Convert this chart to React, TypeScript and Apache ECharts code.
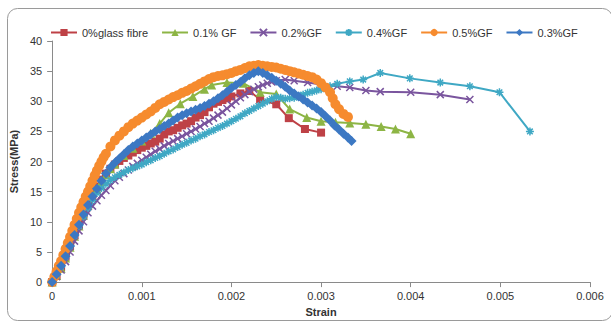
import React, { useEffect, useRef } from "react";
import * as echarts from "echarts";

const seriesNames = ["0%glass fibre", "0.1% GF", "0.2%GF", "0.4%GF", "0.5%GF", "0.3%GF"];
const xTicks = [0, 0.001, 0.002, 0.003, 0.004, 0.005, 0.006];

const gf0: number[][] = [[0,0],[0.00005,1.2],[0.0001,2.5],[0.00015,4.2],[0.0002,6],[0.00025,7.8],[0.0003,9.5],[0.00035,11.3],[0.0004,13],[0.00045,14.5],[0.0005,15.8],[0.00055,17],[0.0006,18],[0.00065,18.8],[0.0007,19.5],[0.00075,20.1],[0.0008,20.6],[0.00085,21],[0.0009,21.5],[0.00095,21.9],[0.001,22.3],[0.00105,22.6],[0.0011,23],[0.00115,23.3],[0.0012,23.8],[0.00125,24.5],[0.0013,25],[0.00135,25.2],[0.0014,25.6],[0.00145,26],[0.0015,26.3],[0.00155,26.7],[0.0016,27.3],[0.00165,27.7],[0.0017,28.2],[0.00175,29],[0.0018,29.6],[0.00185,29.9],[0.0019,30.2],[0.00195,30.5],[0.002,30.8],[0.0021,31.3],[0.0022,31.7],[0.00232,30.3],[0.0025,29.5],[0.00264,27.2],[0.00282,25.4],[0.003,24.8]];
const gf01: number[][] = [[0,0],[0.00005,1.1],[0.0001,2.3],[0.00015,4],[0.0002,5.8],[0.00025,7.6],[0.0003,9.3],[0.00035,11.1],[0.0004,12.8],[0.00045,14.2],[0.0005,15.5],[0.00055,16.7],[0.0006,17.8],[0.00065,18.8],[0.0007,19.6],[0.0008,21],[0.0009,22.2],[0.001,23.4],[0.0011,24.7],[0.0012,26.3],[0.0013,28.1],[0.00143,29.6],[0.00157,30.8],[0.0017,32],[0.00178,32.7],[0.00195,33.1],[0.00213,33],[0.00232,31.5],[0.0025,31.2],[0.00265,28.7],[0.00284,27.3],[0.003,26.7],[0.00316,26.5],[0.00332,26.4],[0.0035,26.2],[0.00367,25.8],[0.00383,25.4],[0.004,24.6]];
const gf02: number[][] = [[0,0],[0.00005,0.9],[0.0001,2],[0.00015,3.4],[0.0002,5],[0.00025,6.8],[0.0003,8.5],[0.00035,10],[0.0004,11.5],[0.00045,12.6],[0.0005,13.5],[0.00055,14.4],[0.0006,15.2],[0.00065,16],[0.0007,16.8],[0.00075,17.4],[0.0008,18],[0.00085,18.6],[0.0009,19.2],[0.00095,19.7],[0.001,20.2],[0.00105,20.7],[0.0011,21.2],[0.00115,21.7],[0.0012,22.1],[0.00125,22.6],[0.0013,23],[0.00135,23.4],[0.0014,23.8],[0.00145,24.2],[0.0015,24.6],[0.00155,25],[0.0016,25.4],[0.00165,25.8],[0.0017,26.3],[0.00175,26.7],[0.0018,27.2],[0.00185,27.7],[0.0019,28.2],[0.00195,28.8],[0.002,29.4],[0.00205,30],[0.0021,30.6],[0.00215,31.1],[0.0022,31.6],[0.00225,32],[0.0023,32.4],[0.00235,32.7],[0.0024,33],[0.00245,33.2],[0.0025,33.4],[0.0026,33.6],[0.0027,33.4],[0.00285,33.1],[0.003,32.8],[0.00318,32.5],[0.00332,32.3],[0.0035,31.8],[0.00366,31.6],[0.004,31.5],[0.00433,31.1],[0.00466,30.3]];
const gf04: number[][] = [[0,0],[0.00005,1.2],[0.0001,2.5],[0.00015,4.2],[0.0002,6],[0.00025,7.7],[0.0003,9.3],[0.00035,10.9],[0.0004,12.3],[0.00045,13.6],[0.0005,14.8],[0.00055,15.6],[0.0006,16.3],[0.00065,16.9],[0.0007,17.4],[0.00075,17.8],[0.0008,18.2],[0.00085,18.6],[0.0009,18.9],[0.00095,19.2],[0.001,19.5],[0.00105,19.9],[0.0011,20.2],[0.00115,20.6],[0.0012,20.9],[0.00125,21.3],[0.0013,21.7],[0.00135,22],[0.0014,22.4],[0.00145,22.8],[0.0015,23.1],[0.00155,23.5],[0.0016,23.8],[0.00165,24.2],[0.0017,24.5],[0.00175,24.9],[0.0018,25.2],[0.00185,25.6],[0.0019,25.9],[0.00195,26.3],[0.002,26.7],[0.00205,27.1],[0.0021,27.5],[0.00215,28],[0.0022,28.4],[0.00225,28.8],[0.0023,29.2],[0.00235,29.6],[0.0024,30],[0.00245,30.4],[0.0025,30.7],[0.00255,30.6],[0.0026,30.4],[0.00265,30.5],[0.0027,30.6],[0.00275,30.9],[0.0028,31.1],[0.00285,31.4],[0.0029,31.6],[0.00295,31.8],[0.003,32],[0.0031,32.5],[0.00318,32.9],[0.00332,33.3],[0.00347,33.6],[0.00366,34.7],[0.00399,33.8],[0.00433,33.1],[0.00466,32.5],[0.00499,31.5],[0.00533,25]];
const gf05: number[][] = [[0,0],[0.000025,0.9],[0.00005,1.8],[0.000075,2.7],[0.0001,3.5],[0.000125,4.5],[0.00015,5.5],[0.000175,6.5],[0.0002,7.5],[0.000225,8.5],[0.00025,9.5],[0.000275,10.5],[0.0003,11.5],[0.000325,12.4],[0.00035,13.3],[0.000375,14.2],[0.0004,15],[0.000425,15.9],[0.00045,16.8],[0.000475,17.7],[0.0005,18.5],[0.000525,19.3],[0.00055,20],[0.000575,20.7],[0.0006,21.3],[0.00065,22.5],[0.0007,23.5],[0.00075,24.3],[0.0008,25],[0.00085,25.7],[0.0009,26.3],[0.00095,26.8],[0.001,27.3],[0.00105,27.8],[0.0011,28.3],[0.00115,28.9],[0.0012,29.5],[0.00125,29.9],[0.0013,30.3],[0.00135,30.7],[0.0014,31],[0.00145,31.4],[0.0015,31.7],[0.00155,32.1],[0.0016,32.5],[0.00165,32.9],[0.0017,33.3],[0.00175,33.7],[0.0018,34],[0.00185,34.2],[0.0019,34.3],[0.00195,34.5],[0.002,34.7],[0.00205,35],[0.0021,35.2],[0.00215,35.5],[0.0022,35.8],[0.00225,35.9],[0.0023,36],[0.00235,35.9],[0.0024,35.8],[0.00245,35.7],[0.0025,35.6],[0.00255,35.4],[0.0026,35.2],[0.00265,35],[0.0027,34.8],[0.00275,34.6],[0.0028,34.4],[0.00285,34.2],[0.0029,34],[0.00295,33.6],[0.003,33],[0.00305,32.3],[0.0031,31.5],[0.00313,30.5],[0.00316,29.5],[0.0032,28.7],[0.00325,27.9],[0.0033,27.4]];
const gf03: number[][] = [[0,0],[0.00005,1.3],[0.0001,2.7],[0.00015,4.3],[0.0002,6],[0.00025,7.8],[0.0003,9.5],[0.00035,11.2],[0.0004,12.8],[0.00045,14.2],[0.0005,15.5],[0.00055,16.8],[0.0006,18],[0.00065,19],[0.0007,19.8],[0.00075,20.5],[0.0008,21.2],[0.00085,21.9],[0.0009,22.5],[0.00095,23],[0.001,23.5],[0.00105,24],[0.0011,24.5],[0.00115,25],[0.0012,25.4],[0.00125,25.9],[0.0013,26.3],[0.00135,26.8],[0.0014,27.3],[0.00145,27.7],[0.0015,28],[0.00155,28.3],[0.0016,28.6],[0.00165,28.9],[0.0017,29.2],[0.00175,29.6],[0.0018,30],[0.00185,30.5],[0.0019,31],[0.00195,31.6],[0.002,32.2],[0.00205,32.7],[0.0021,33.2],[0.00215,33.8],[0.0022,34.3],[0.00225,34.7],[0.0023,35],[0.00235,34.7],[0.0024,34.3],[0.00245,33.9],[0.0025,33.4],[0.00255,32.9],[0.0026,32.4],[0.00265,31.8],[0.0027,31.3],[0.00275,30.8],[0.0028,30.3],[0.00285,29.8],[0.0029,29.3],[0.00295,28.8],[0.003,28.2],[0.00305,27.5],[0.0031,26.8],[0.00315,26],[0.0032,25.3],[0.00325,24.6],[0.0033,24],[0.00334,23.4]];

const colors = ["#BE4146", "#8DB545", "#7A559E", "#3FA8C4", "#F68B2E", "#3C78C3"];
const symbols = [
  "rect",
  "triangle",
  "path://M0,0L10,10M10,0L0,10",
  "path://M5,0L5,10M0,5L10,5M1.5,1.5L8.5,8.5M8.5,1.5L1.5,8.5",
  "circle",
  "diamond",
];
const symbolSizes = [8, 9, 7, 8, 10, 10];
const allData = [gf0, gf01, gf02, gf04, gf05, gf03];

export default function App() {
  const ref = useRef<HTMLDivElement>(null);
  useEffect(() => {
    document.body.style.margin = "0";
    const chart = echarts.init(ref.current!, null, { renderer: "svg" });
    const font = "'Liberation Sans', Arial, sans-serif";
    chart.setOption({
      animation: false,
      textStyle: { fontFamily: font },
      graphic: [
        {
          type: "rect",
          left: 5,
          top: 6,
          shape: { width: 605, height: 312, r: 10 },
          style: { fill: "none", stroke: "#9a9a9a", lineWidth: 1 },
          silent: true,
        },
      ],
      legend: {
        top: 22,
        left: 45,
        itemWidth: 26,
        itemHeight: 9,
        itemGap: 13,
        textStyle: { fontSize: 11, color: "#333", fontFamily: font },
        data: seriesNames,
      },
      grid: { left: 52, right: 21, top: 41, bottom: 38 },
      xAxis: {
        type: "value",
        min: 0,
        max: 0.006,
        interval: 0.001,
        name: "Strain",
        nameLocation: "middle",
        nameGap: 20,
        nameTextStyle: { fontSize: 11, fontWeight: "bold", color: "#333" },
        axisLine: { lineStyle: { color: "#8a8a8a" } },
        axisTick: { show: true, length: 5, lineStyle: { color: "#8a8a8a" } },
        axisLabel: {
          fontSize: 11,
          color: "#333",
          margin: 8,
          formatter: (v: number) => {
            const idx = xTicks.findIndex((t) => Math.abs(t - v) < 1e-9);
            return idx >= 0 ? String(xTicks[idx]) : "";
          },
        },
        splitLine: { show: false },
      },
      yAxis: {
        type: "value",
        min: 0,
        max: 40,
        interval: 5,
        name: "Stress(MPa)",
        nameLocation: "middle",
        nameGap: 29,
        nameTextStyle: { fontSize: 11, fontWeight: "bold", color: "#333" },
        axisLine: { show: true, lineStyle: { color: "#8a8a8a" } },
        axisTick: { show: true, length: 5, lineStyle: { color: "#8a8a8a" } },
        axisLabel: { fontSize: 11, color: "#333", margin: 10 },
        splitLine: { show: false },
      },
      series: allData.map((d, i) => ({
        name: seriesNames[i],
        type: "line",
        data: d,
        symbol: symbols[i],
        symbolSize: symbolSizes[i],
        showSymbol: true,
        showAllSymbol: true,
        lineStyle: { color: colors[i], width: 2 },
        itemStyle: {
          color: colors[i],
          borderColor: colors[i],
          borderWidth: i === 2 || i === 3 ? 1.5 : 0,
        },
        emphasis: { disabled: true },
      })),
    });
    return () => chart.dispose();
  }, []);
  return <div ref={ref} style={{ width: 611, height: 322 }} />;
}
